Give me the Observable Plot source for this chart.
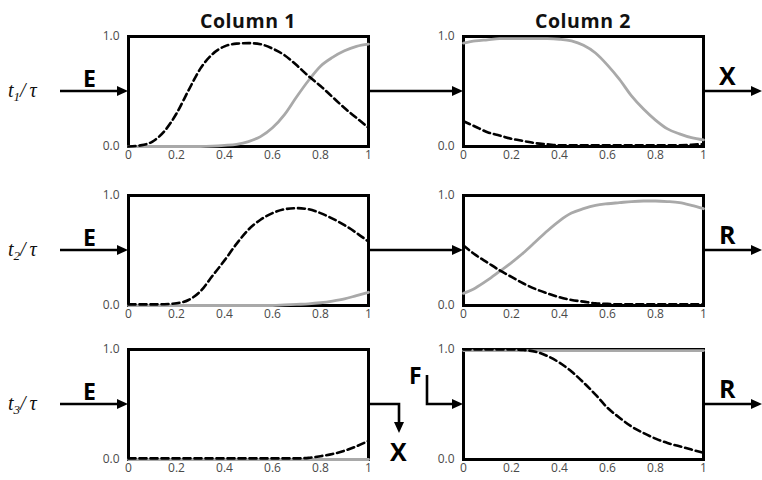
<!DOCTYPE html>
<html>
<head>
<meta charset="utf-8">
<script src="https://cdn.jsdelivr.net/npm/d3@7"></script>
<script src="https://cdn.jsdelivr.net/npm/@observablehq/plot@0.6"></script>
<style>
  html, body { margin: 0; padding: 0; background: #fff; }
  #chart { position: relative; width: 762px; height: 480px; overflow: hidden; background: #fff; }
  #chart > .panel { position: absolute; }
  #overlay { position: absolute; left: 0; top: 0; }
</style>
</head>
<body>
<div id="chart"></div>
<script>
// ---- data ----
const xs = [0,0.05,0.1,0.15,0.2,0.25,0.3,0.35,0.4,0.45,0.5,0.55,0.6,0.65,0.7,0.75,0.8,0.85,0.9,0.95,1];
const xTicks = [0,0.2,0.4,0.6,0.8,1];
const yTicks = [0,1];
const columnTitles = ["Column 1", "Column 2"];
const rowLabels = ["1", "2", "3"];

const p1Dash = [0.00,0.01,0.045,0.14,0.3,0.51,0.71,0.84,0.91,0.935,0.94,0.93,0.89,0.83,0.74,0.64,0.55,0.45,0.35,0.26,0.17];
const p1Gray = [0,0,0,0,0,0,0,0.003,0.01,0.02,0.045,0.09,0.17,0.29,0.45,0.6,0.73,0.81,0.87,0.91,0.93];
const p2Dash = [0.23,0.18,0.13,0.1,0.07,0.05,0.03,0.02,0.01,0.01,0.01,0.01,0.01,0.01,0.01,0.01,0.01,0.01,0.012,0.016,0.022];
const p2Gray = [0.94,0.96,0.97,0.98,0.98,0.98,0.98,0.98,0.975,0.96,0.92,0.85,0.74,0.61,0.46,0.34,0.24,0.16,0.115,0.08,0.06];
const p3Dash = [0.01,0.01,0.01,0.012,0.02,0.05,0.13,0.27,0.41,0.56,0.69,0.78,0.84,0.875,0.885,0.875,0.84,0.79,0.73,0.66,0.58];
const p3Gray = [0,0,0,0,0,0,0,0,0,0,0,0,0,0.005,0.01,0.015,0.025,0.04,0.06,0.09,0.12];
const p4Dash = [0.545,0.46,0.39,0.32,0.26,0.2,0.15,0.11,0.075,0.05,0.035,0.02,0.015,0.01,0.01,0.01,0.01,0.01,0.01,0.01,0.01];
const p4Gray = [0.11,0.16,0.23,0.31,0.39,0.48,0.58,0.68,0.77,0.84,0.88,0.91,0.925,0.935,0.945,0.95,0.95,0.945,0.935,0.91,0.88];
const p5Dash = [0.01,0.01,0.01,0.01,0.01,0.01,0.01,0.01,0.01,0.01,0.01,0.01,0.01,0.01,0.01,0.015,0.03,0.05,0.08,0.12,0.17];
const p5Gray = [0,0,0,0,0,0,0,0,0,0,0,0,0,0,0,0,0,0,0,0,0];
const p6Dash = [1,1,1,1,1,0.995,0.98,0.94,0.88,0.8,0.7,0.59,0.47,0.38,0.3,0.24,0.19,0.15,0.12,0.09,0.06];
const p6Gray = [0.99,0.99,0.99,0.99,0.99,0.99,0.99,0.99,0.99,0.99,0.99,0.99,0.99,0.99,0.99,0.99,0.99,0.99,0.99,0.99,0.99];

const panels = [
  {row:0, col:0, dash:p1Dash, gray:p1Gray},
  {row:0, col:1, dash:p2Dash, gray:p2Gray},
  {row:1, col:0, dash:p3Dash, gray:p3Gray},
  {row:1, col:1, dash:p4Dash, gray:p4Gray},
  {row:2, col:0, dash:p5Dash, gray:p5Gray},
  {row:2, col:1, dash:p6Dash, gray:p6Gray}
];

// ---- layout ----
const colX = [128, 463];
const rowY = [36, 195, 349];
const PW = 240, PH = 110;
const M = {left: 34, right: 6, top: 6, bottom: 22};

const chart = document.getElementById("chart");
const fmtX = d => (d === 0 || d === 1) ? String(d) : d.toFixed(1);
const fmtY = d3.format(".1f");

for (const p of panels) {
  const data = xs.map((x, i) => ({x, dash: p.dash[i], gray: p.gray[i]}));
  const svg = Plot.plot({
    width: PW + M.left + M.right,
    height: PH + M.top + M.bottom,
    marginLeft: M.left, marginRight: M.right, marginTop: M.top, marginBottom: M.bottom,
    style: {fontFamily: "'Open Sans', sans-serif", background: "transparent", overflow: "visible"},
    x: {domain: [0, 1]},
    y: {domain: [0, 1]},
    marks: [
      Plot.axisX({ticks: xTicks, tickFormat: fmtX, tickSize: 0, tickPadding: 4, label: null, fontSize: 12, fill: "#4a4a4a"}),
      Plot.axisY({ticks: yTicks, tickFormat: fmtY, tickSize: 0, tickPadding: 9, label: null, fontSize: 12, fill: "#4a4a4a"}),
      Plot.frame({stroke: "black", strokeWidth: 3}),
      Plot.line(data, {x: "x", y: "gray", stroke: "#a9a9a9", strokeWidth: 2.8, curve: "monotone-x"}),
      Plot.line(data, {x: "x", y: "dash", stroke: "black", strokeWidth: 2.6, strokeDasharray: "7,4", curve: "monotone-x"})
    ]
  });
  svg.classList.add("panel");
  svg.style.left = (colX[p.col] - M.left) + "px";
  svg.style.top = (rowY[p.row] - M.top) + "px";
  chart.appendChild(svg);
}

// ---- annotation overlay (arrows, labels) ----
const ov = d3.select(chart).append("svg")
  .attr("id", "overlay").attr("width", 762).attr("height", 480);

const bold = "'Open Sans', sans-serif";
columnTitles.forEach((t, c) => {
  ov.append("text").attr("x", colX[c] + PW / 2).attr("y", 28)
    .attr("text-anchor", "middle").attr("font-family", bold).attr("font-weight", 700)
    .attr("font-size", 19.5).attr("letter-spacing", 0.6).attr("fill", "#111").text(t);
});

function line(pts) {
  ov.append("path").attr("d", d3.line()(pts)).attr("fill", "none")
    .attr("stroke", "black").attr("stroke-width", 2.6);
}
function head(x, y, dir) {
  const L = 11, W = 5;
  let pts;
  if (dir === "right") pts = [[x, y], [x - L, y - W], [x - L, y + W]];
  else pts = [[x, y], [x - W, y - L], [x + W, y - L]];
  ov.append("path").attr("d", d3.line()(pts) + "Z").attr("fill", "black");
}
function letter(t, x, y, size) {
  ov.append("text").attr("x", x).attr("y", y).attr("font-family", bold)
    .attr("font-weight", 700).attr("font-size", size).attr("fill", "black").text(t);
}

rowLabels.forEach((s, r) => {
  const ym = rowY[r] + PH / 2;
  // row label t_r / tau
  const t = ov.append("text").attr("x", 8).attr("y", ym + 6)
    .attr("font-family", "'Liberation Serif', serif").attr("font-style", "italic")
    .attr("font-size", 20).attr("fill", "#111");
  t.append("tspan").text("t");
  t.append("tspan").attr("font-size", 13).attr("dy", 4).text(s);
  t.append("tspan").attr("dy", -4).text("/\u2009τ");

  // input arrow E
  line([[60, ym], [colX[0] - 8, ym]]); head(colX[0], ym, "right");
  letter("E", 83, ym - 4, 23);

  // middle arrow (rows 1,2) or bent arrows (row 3)
  if (r < 2) {
    line([[colX[0] + PW, ym], [colX[1] - 8, ym]]); head(colX[1], ym, "right");
  } else {
    line([[colX[0] + PW, ym], [399, ym], [399, ym + 20]]); head(399, ym + 29, "down");
    letter("X", 390, ym + 57, 25);
    line([[427, ym - 29], [427, ym], [colX[1] - 8, ym]]); head(colX[1], ym, "right");
    letter("F", 409, ym - 20, 23);
  }
  // output arrow
  line([[colX[1] + PW, ym], [754, ym]]); head(762, ym, "right");
  letter(r === 0 ? "X" : "R", 719, ym - 6, 25);
});
</script>
</body>
</html>
